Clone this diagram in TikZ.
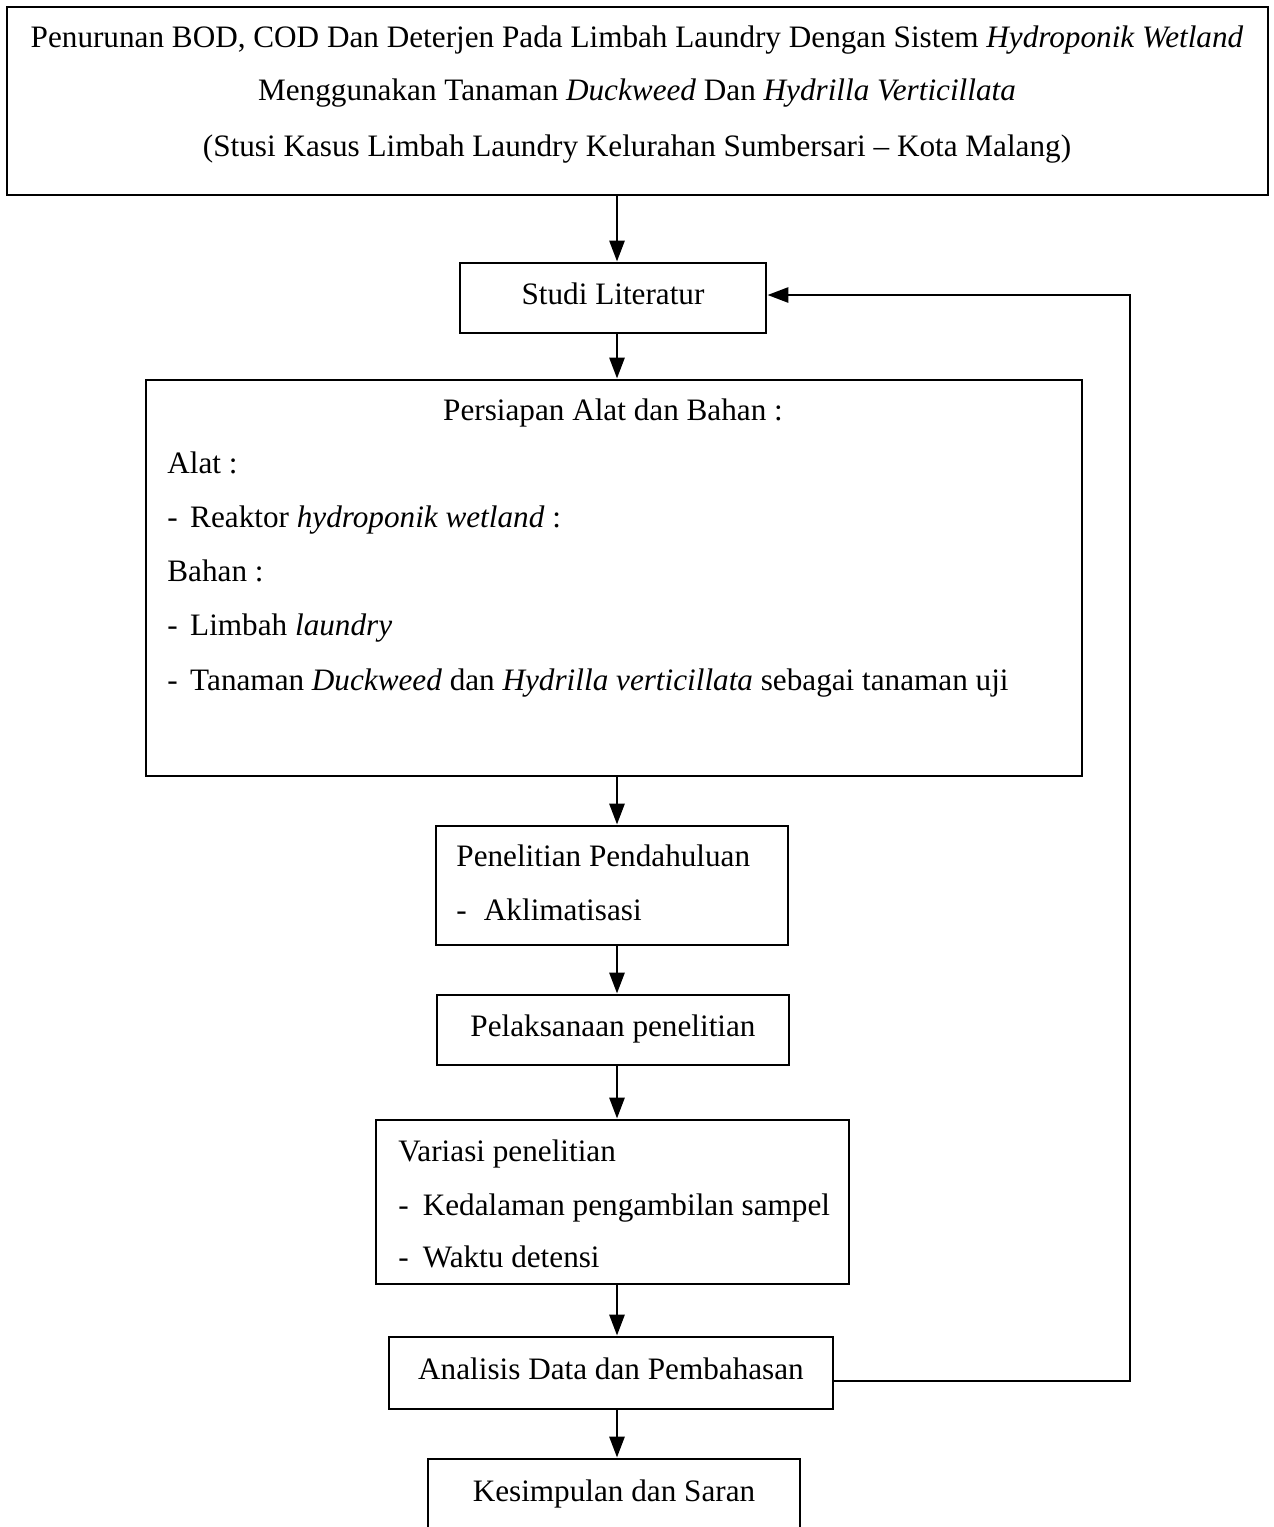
\documentclass[tikz,border=0pt]{standalone}
\usepackage{fontspec}
\setmainfont{Liberation Serif}
\usetikzlibrary{arrows.meta}
\begin{document}
\begin{tikzpicture}[x=0.5pt,y=-0.5pt,
  box/.style={draw, line width=1.45pt, inner sep=0pt},
  arr/.style={-{Triangle[length=10.5pt,width=7.5pt]}, line width=1.45pt},
  txt/.style={inner sep=0pt, text height=0.66em, text depth=0pt, font=\fontsize{15.6}{18}\selectfont},
  ct/.style={txt, yshift=-2pt},
  lt/.style={ct, anchor=west}]
\clip (0,0) rectangle (1274,1527);
\fill[white] (0,0) rectangle (1274,1527);
% top box
\node[box, minimum width=630.5pt, minimum height=94pt] (top) at (637.5,101) {};
\node[ct] (t1) at (637,37) {Penurunan BOD, COD Dan Deterjen Pada Limbah Laundry Dengan Sistem \textit{Hydroponik Wetland}};
\node[ct] (t2) at (637,90) {Menggunakan Tanaman \textit{Duckweed} Dan \textit{Hydrilla Verticillata}};
\node[ct] (t3) at (637,146) {(Stusi Kasus Limbah Laundry Kelurahan Sumbersari -- Kota Malang)};
% studi
\node[box, txt, minimum width=153pt, minimum height=35pt] (studi) at (613,298) {Studi Literatur};
% persiapan
\node[box, minimum width=468pt, minimum height=198pt] (pers) at (614,578) {};
\node[ct] (p0) at (613,410) {Persiapan Alat dan Bahan :};
\node[lt] (p1) at (167,463) {Alat :};
\node[lt] (p2) at (167,517) {-\hspace{0.4em}Reaktor \textit{hydroponik wetland} :};
\node[lt] (p3) at (167,571) {Bahan :};
\node[lt] (p4) at (167,625) {-\hspace{0.4em}Limbah \textit{laundry}};
\node[lt] (p5) at (167,680) {-\hspace{0.4em}Tanaman \textit{Duckweed} dan \textit{Hydrilla verticillata} sebagai tanaman uji};
% penelitian pendahuluan
\node[box, minimum width=176pt, minimum height=59.5pt] (pend) at (612,885.5) {};
\node[lt] (pd1) at (456,856) {Penelitian Pendahuluan};
\node[lt] (pd2) at (456,910) {-\hspace{0.55em}Aklimatisasi};
% pelaksanaan
\node[box, txt, minimum width=176pt, minimum height=35pt] (pel) at (613,1030) {Pelaksanaan penelitian};
% variasi
\node[box, minimum width=236.5pt, minimum height=82pt] (var) at (612.5,1202) {};
\node[lt] (v1) at (398,1151) {Variasi penelitian};
\node[lt] (v2) at (398,1205) {-\hspace{0.45em}Kedalaman pengambilan sampel};
\node[lt] (v3) at (398,1257) {-\hspace{0.45em}Waktu detensi};
% analisis
\node[box, minimum width=222pt, minimum height=36pt] (anal) at (611,1373) {};
\node[ct] (a1) at (611,1369) {Analisis Data dan Pembahasan};
% kesimpulan
\node[box, minimum width=186pt, minimum height=51pt] (kes) at (614,1510) {};
\node[ct] (k1) at (614,1491) {Kesimpulan dan Saran};
% connectors
\coordinate (col) at (617,0);
\coordinate (fb) at (1130,0);
\draw[arr] (top.south -| col) -- (studi.north -| col);
\draw[arr] (studi.south -| col) -- (pers.north -| col);
\draw[arr] (pers.south -| col) -- (pend.north -| col);
\draw[arr] (pend.south -| col) -- (pel.north -| col);
\draw[arr] (pel.south -| col) -- (var.north -| col);
\draw[arr] (var.south -| col) -- (anal.north -| col);
\draw[arr] (anal.south -| col) -- (kes.north -| col);
\draw[arr] ([yshift=-4pt]anal.east) -- ([yshift=-4pt]anal.east -| fb) -- ([yshift=1.5pt]studi.east -| fb) -- ([yshift=1.5pt]studi.east);
\end{tikzpicture}
\end{document}
